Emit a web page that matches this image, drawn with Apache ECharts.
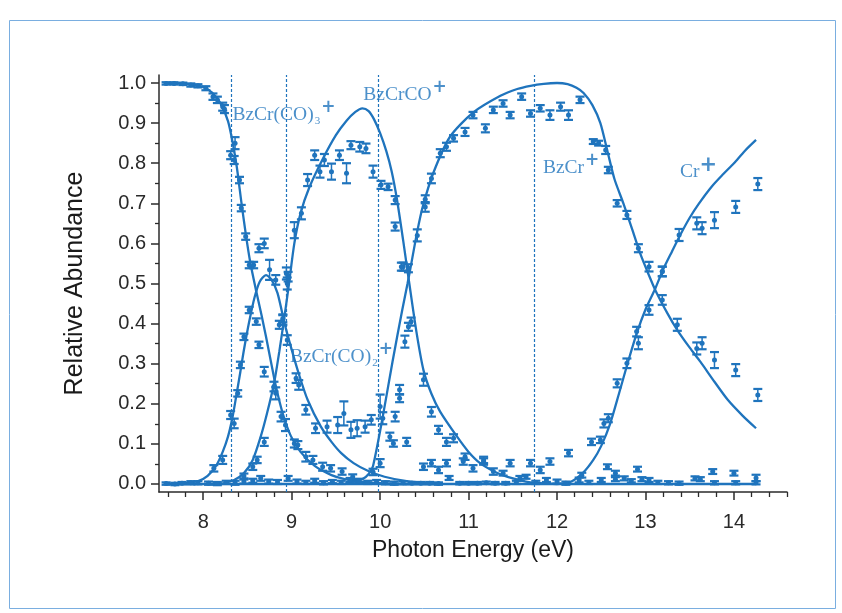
<!DOCTYPE html>
<html>
<head>
<meta charset="utf-8">
<script src="https://cdn.jsdelivr.net/npm/echarts@6/dist/echarts.min.js"></script>
<style>
  html, body { margin: 0; padding: 0; background: #ffffff; }
  #chart { width: 842px; height: 613px; }
</style>
</head>
<body>
<div id="chart"></div>
<script>
// ---- Axis ticks ----
const xMajorTicks = [8, 9, 10, 11, 12, 13, 14];
const xMinorTicks = [7.6, 7.8, 8.2, 8.4, 8.6, 8.8, 9.2, 9.4, 9.6, 9.8, 10.2, 10.4, 10.6, 10.8,
  11.2, 11.4, 11.6, 11.8, 12.2, 12.4, 12.6, 12.8, 13.2, 13.4, 13.6, 13.8, 14.2, 14.4, 14.6];
const yMajorTicks = [0.0, 0.1, 0.2, 0.3, 0.4, 0.5, 0.6, 0.7, 0.8, 0.9, 1.0];
const yMinorTicks = [0.05, 0.15, 0.25, 0.35, 0.45, 0.55, 0.65, 0.75, 0.85, 0.95];

// ---- Fitted curves [photon energy (eV), relative abundance] ----
const fitParent = [[7.58,1.0],[7.8,0.998],[8.0,0.99],[8.1,0.976],[8.2,0.948],[8.28,0.905],[8.33,0.855],
  [8.38,0.79],[8.43,0.705],[8.48,0.625],[8.53,0.555],[8.6,0.48],[8.66,0.42],[8.71,0.367],[8.77,0.30],
  [8.82,0.245],[8.9,0.175],[8.99,0.12],[9.1,0.08],[9.26,0.045],[9.45,0.022],[9.6,0.012],[9.8,0.005],
  [10.0,0.002],[10.3,0.0]];
const fitDicarbonyl = [[7.58,0.0],[7.8,0.002],[7.95,0.008],[8.05,0.02],[8.15,0.047],[8.22,0.08],[8.28,0.118],
  [8.33,0.165],[8.37,0.215],[8.42,0.28],[8.46,0.334],[8.52,0.405],[8.58,0.465],[8.64,0.505],[8.71,0.521],
  [8.77,0.51],[8.84,0.476],[8.92,0.40],[9.0,0.335],[9.08,0.275],[9.18,0.21],[9.33,0.143],[9.45,0.105],
  [9.56,0.077],[9.7,0.052],[9.86,0.033],[10.05,0.018],[10.3,0.007],[10.6,0.001]];
const fitMonocarbonyl = [[8.2,0.0],[8.35,0.01],[8.46,0.027],[8.56,0.06],[8.65,0.118],[8.72,0.175],[8.8,0.25],
  [8.86,0.33],[8.92,0.42],[8.97,0.5],[9.03,0.6],[9.1,0.675],[9.2,0.74],[9.35,0.81],[9.5,0.87],[9.62,0.906],
  [9.72,0.928],[9.8,0.937],[9.87,0.93],[9.93,0.91],[10.0,0.875],[10.07,0.83],[10.13,0.78],[10.19,0.71],
  [10.26,0.608],[10.33,0.5],[10.41,0.38],[10.49,0.284],[10.58,0.225],[10.68,0.18],[10.87,0.118],
  [11.0,0.08],[11.13,0.052],[11.3,0.03],[11.45,0.017],[11.7,0.004],[12.0,0.0]];
const fitBzCr = [[9.6,0.0],[9.8,0.012],[9.87,0.025],[9.92,0.045],[10.03,0.168],[10.14,0.305],[10.25,0.434],
  [10.31,0.5],[10.36,0.559],[10.42,0.63],[10.48,0.69],[10.6,0.775],[10.79,0.866],[11.05,0.926],
  [11.36,0.968],[11.55,0.985],[11.7,0.993],[11.85,0.998],[12.0,1.0],[12.12,0.997],[12.22,0.988],
  [12.3,0.975],[12.4,0.945],[12.49,0.9],[12.57,0.83],[12.65,0.76],[12.75,0.7],[12.85,0.635],
  [12.94,0.575],[13.04,0.52],[13.11,0.484],[13.25,0.425],[13.36,0.384],[13.5,0.34],[13.62,0.305],
  [13.78,0.255],[13.93,0.21],[14.1,0.17],[14.25,0.139]];
const fitCr = [[12.0,0.0],[12.15,0.005],[12.29,0.027],[12.41,0.06],[12.5,0.095],[12.6,0.15],[12.7,0.225],
  [12.79,0.295],[12.9,0.375],[13.0,0.435],[13.11,0.487],[13.2,0.535],[13.3,0.58],[13.4,0.624],
  [13.5,0.664],[13.6,0.698],[13.75,0.742],[13.88,0.773],[14.0,0.80],[14.12,0.83],[14.25,0.858]];
const fitBaseline = [[7.58,0.0],[14.25,0.0]];

// ---- Measured points [photon energy (eV), relative abundance, error] ----
const ptsParent = [[7.58,0.999,0.003],[7.67,0.999,0.003],[7.77,0.998,0.003],[7.86,0.995,0.004],
  [7.94,0.993,0.004],[8.03,0.987,0.005],[8.11,0.966,0.008],[8.16,0.958,0.008],[8.22,0.941,0.01],
  [8.24,0.935,0.01],[8.36,0.85,0.015],[8.31,0.82,0.01],[8.35,0.808,0.01],[8.41,0.758,0.008],
  [8.43,0.688,0.008],[8.48,0.617,0.008],[8.52,0.546,0.008],[8.57,0.546,0.008],[8.63,0.347,0.008],
  [8.69,0.28,0.012],[8.8,0.243,0.012],[8.82,0.226,0.015],[8.88,0.168,0.012],[8.93,0.147,0.015],
  [9.03,0.101,0.01],[9.07,0.097,0.01],[9.16,0.068,0.012],[9.24,0.06,0.01],[9.35,0.043,0.01],
  [9.44,0.039,0.008],[9.57,0.031,0.008],[9.69,0.018,0.006]];
const ptsDicarbonyl = [[8.12,0.039,0.008],[8.22,0.06,0.01],[8.31,0.172,0.01],[8.35,0.151,0.012],
  [8.39,0.226,0.008],[8.42,0.297,0.008],[8.46,0.367,0.008],[8.52,0.434,0.008],[8.6,0.405,0.008],
  [8.63,0.588,0.01],[8.69,0.6,0.012],[8.75,0.534,0.025],[8.82,0.509,0.012],[8.95,0.5,0.015],
  [8.9,0.409,0.012],[8.86,0.397,0.01],[8.95,0.359,0.012],[9.05,0.264,0.012],[9.08,0.247,0.012],
  [9.16,0.185,0.012],[9.27,0.139,0.012],[9.4,0.143,0.015],[9.52,0.147,0.02],[9.59,0.176,0.03],
  [9.67,0.135,0.02],[9.74,0.139,0.02],[9.83,0.143,0.015],[9.9,0.16,0.012],[10.0,0.193,0.03],
  [10.03,0.164,0.015]];
const ptsMonocarbonyl = [[8.46,0.02,0.006],[8.56,0.043,0.008],[8.61,0.06,0.008],[8.69,0.105,0.01],
  [8.9,0.413,0.01],[8.96,0.517,0.012],[8.94,0.525,0.015],[9.03,0.633,0.02],[9.11,0.675,0.015],
  [9.18,0.758,0.015],[9.26,0.82,0.012],[9.32,0.779,0.015],[9.37,0.808,0.015],[9.45,0.779,0.02],
  [9.54,0.82,0.012],[9.62,0.775,0.025],[9.67,0.845,0.01],[9.77,0.841,0.012],[9.84,0.837,0.012],
  [9.92,0.779,0.015],[10.01,0.746,0.01],[10.09,0.741,0.008],[10.17,0.708,0.01],[10.17,0.642,0.01],
  [10.26,0.542,0.01],[10.32,0.538,0.01],[10.35,0.405,0.01],[10.32,0.392,0.01],[10.28,0.355,0.015],
  [10.49,0.26,0.015],[10.58,0.18,0.012],[10.66,0.135,0.01],[10.75,0.105,0.01],[10.83,0.114,0.01],
  [10.96,0.068,0.008],[11.17,0.06,0.008],[11.39,0.027,0.006],[11.58,0.014,0.006]];
const ptsBzCr = [[9.92,0.03,0.008],[10.0,0.052,0.01],[10.11,0.118,0.01],[10.17,0.168,0.012],
  [10.22,0.214,0.01],[10.22,0.235,0.012],[10.15,0.101,0.008],[10.3,0.105,0.01],[10.24,0.542,0.01],
  [10.42,0.62,0.015],[10.51,0.691,0.012],[10.51,0.71,0.01],[10.58,0.762,0.012],[10.68,0.825,0.01],
  [10.75,0.841,0.01],[10.83,0.862,0.008],[10.96,0.878,0.01],[11.05,0.92,0.008],[11.19,0.887,0.01],
  [11.28,0.933,0.008],[11.39,0.949,0.008],[11.47,0.92,0.008],[11.6,0.966,0.008],[11.7,0.924,0.008],
  [11.81,0.937,0.008],[11.92,0.92,0.012],[12.04,0.941,0.01],[12.13,0.92,0.012],[12.26,0.958,0.008],
  [12.41,0.854,0.006],[12.47,0.85,0.006],[12.55,0.833,0.01],[12.58,0.783,0.008],[12.68,0.7,0.008],
  [12.79,0.671,0.01],[12.92,0.588,0.01],[13.04,0.542,0.012],[13.19,0.53,0.012],[13.19,0.459,0.012],
  [13.36,0.397,0.015],[13.58,0.338,0.015],[13.64,0.351,0.015],[13.78,0.309,0.02],[14.02,0.284,0.015],
  [14.27,0.222,0.015]];
const ptsLowYield = [[10.49,0.043,0.008],[10.58,0.052,0.008],[10.66,0.035,0.008],[10.75,0.052,0.008],
  [10.94,0.056,0.008],[11.05,0.039,0.008],[11.17,0.056,0.008],[11.28,0.031,0.008],[11.47,0.052,0.008],
  [11.7,0.052,0.008],[11.81,0.035,0.008],[11.92,0.056,0.008],[12.13,0.077,0.008]];
const ptsCr = [[12.28,0.022,0.006],[12.39,0.105,0.008],[12.49,0.11,0.008],[12.53,0.151,0.01],
  [12.58,0.164,0.01],[12.68,0.251,0.01],[12.79,0.301,0.012],[12.9,0.38,0.012],[12.92,0.351,0.015],
  [13.04,0.434,0.012],[13.19,0.53,0.012],[13.38,0.621,0.015],[13.58,0.65,0.015],[13.64,0.638,0.015],
  [13.78,0.658,0.02],[14.02,0.691,0.015],[14.27,0.748,0.015]];
const ptsBaseline = [[7.58,0.001,0.003],[7.68,0.0,0.003],[7.76,0.002,0.003],[7.86,0.003,0.004],
  [7.94,0.003,0.004],[8.06,0.002,0.004],[8.16,0.001,0.004],[8.26,0.004,0.004],[8.36,0.003,0.005],
  [8.46,0.006,0.005],[8.56,0.008,0.005],[8.65,0.014,0.006],[8.74,0.006,0.005],[8.84,0.005,0.005],
  [8.96,0.014,0.006],[9.06,0.006,0.005],[9.16,0.004,0.004],[9.26,0.008,0.005],[9.36,0.003,0.004],
  [9.46,0.006,0.004],[9.56,0.004,0.004],[9.66,0.01,0.005],[9.76,0.008,0.005],[9.86,0.004,0.004],
  [9.96,0.006,0.004],[10.06,0.003,0.004],[10.16,0.002,0.004],[10.26,0.003,0.004],[10.36,0.002,0.003],
  [10.46,0.002,0.003],[10.56,0.002,0.003],[10.66,0.001,0.003],[10.78,0.015,0.005],[10.9,0.002,0.003],
  [11.0,0.002,0.003],[11.1,0.002,0.003],[11.2,0.003,0.003],[11.3,0.002,0.003],[11.42,0.002,0.003],
  [11.54,0.004,0.004],[11.65,0.018,0.005],[11.76,0.004,0.004],[11.88,0.01,0.005],[12.0,0.006,0.005],
  [12.1,0.002,0.004],[12.25,0.01,0.006],[12.36,0.004,0.004],[12.5,0.01,0.005],[12.57,0.043,0.006],
  [12.66,0.027,0.006],[12.66,0.012,0.005],[12.76,0.014,0.005],[12.84,0.008,0.004],[12.91,0.037,0.006],
  [12.96,0.012,0.005],[13.04,0.01,0.005],[13.14,0.004,0.004],[13.26,0.003,0.004],[13.38,0.002,0.004],
  [13.56,0.014,0.005],[13.62,0.012,0.005],[13.76,0.031,0.006],[13.78,0.003,0.004],[14.0,0.027,0.006],
  [14.02,0.003,0.004],[14.25,0.015,0.008],[14.25,0.003,0.004]];

// ---- Appearance thresholds (dashed markers, eV) ----
const thresholdEnergies = [8.325, 8.94, 9.98, 11.74];

// ---- Ion labels: rich-text content and anchor [eV, abundance] ----
const ionLabelText = [
  '{t|BzCr(CO)}{sub|3}{sup|+}',
  '{t|BzCrCO}{sup|+}',
  '{t|BzCr}{sup|+}',
  '{t|Cr}{supL|+}',
  '{t|BzCr(CO)}{sub|2}{sup|+}'
];
const ionLabelE = [8.33, 9.81, 11.84, 13.39, 8.98];
const ionLabelV = [0.92, 0.97, 0.788, 0.778, 0.317];

const BLUE = '#1f74bd';
const AXIS = '#2b2b2b';

function fitSeries(data) {
  return {
    type: 'line', data, smooth: 0.25, showSymbol: false, silent: true,
    lineStyle: { color: BLUE, width: 2.3 }, z: 2
  };
}

function pointSeries(pts) {
  return {
    type: 'custom', data: pts, silent: true, z: 3,
    dimensions: ['e', 'v', 'err'],
    encode: { x: 0, y: 1 },
    renderItem: function (params, api) {
      const e = api.value(0), v = api.value(1), d = api.value(2);
      const c = api.coord([e, v]);
      const top = api.coord([e, v + d])[1];
      const bot = api.coord([e, v - d])[1];
      const hw = 4.5;
      return {
        type: 'group',
        children: [
          { type: 'line', shape: { x1: c[0], y1: top, x2: c[0], y2: bot }, style: { stroke: BLUE, lineWidth: 1.5 } },
          { type: 'line', shape: { x1: c[0] - hw, y1: top, x2: c[0] + hw, y2: top }, style: { stroke: BLUE, lineWidth: 2.2 } },
          { type: 'line', shape: { x1: c[0] - hw, y1: bot, x2: c[0] + hw, y2: bot }, style: { stroke: BLUE, lineWidth: 2.2 } },
          { type: 'circle', shape: { cx: c[0], cy: c[1], r: 2.5 }, style: { fill: BLUE } }
        ]
      };
    }
  };
}

const chart = echarts.init(document.getElementById('chart'), null, { renderer: 'canvas' });

const series = [
  fitSeries(fitParent),
  fitSeries(fitDicarbonyl),
  fitSeries(fitMonocarbonyl),
  fitSeries(fitBzCr),
  fitSeries(fitCr),
  fitSeries(fitBaseline),
  pointSeries(ptsParent),
  pointSeries(ptsDicarbonyl),
  pointSeries(ptsMonocarbonyl),
  pointSeries(ptsBzCr),
  pointSeries(ptsLowYield),
  pointSeries(ptsCr),
  pointSeries(ptsBaseline),
  {
    // vertical dashed threshold markers
    type: 'line', data: [], silent: true,
    markLine: {
      silent: true, symbol: 'none', animation: false,
      label: { show: false },
      lineStyle: { color: BLUE, width: 1.2, type: [3, 2] },
      data: thresholdEnergies.map(function (e) { return { xAxis: e }; })
    }
  },
  {
    // ion labels
    type: 'scatter', symbolSize: 0, silent: true, z: 5,
    data: ionLabelE.map(function (e, i) {
      return { value: [e, ionLabelV[i]], label: { formatter: ionLabelText[i] } };
    }),
    label: {
      show: true, position: 'right', distance: 0,
      rich: {
        t: { fontFamily: 'Liberation Serif', fontSize: 19.5, color: BLUE },
        sub: { fontFamily: 'Liberation Serif', fontSize: 11, color: BLUE, padding: [13, 0, 0, 1] },
        sup: { fontFamily: 'DejaVu Sans', fontSize: 17, fontWeight: 'bold', color: BLUE, padding: [0, 0, 15, 1] },
        supL: { fontFamily: 'DejaVu Sans', fontSize: 21, fontWeight: 'bold', color: BLUE, padding: [0, 0, 13, 0] }
      }
    }
  }
];

chart.setOption({
  animation: false,
  backgroundColor: '#ffffff',
  graphic: [{
    type: 'rect', silent: true, z: -10,
    shape: { x: 9.5, y: 20.5, width: 826, height: 588 },
    style: { fill: null, stroke: '#7aaee0', lineWidth: 1 }
  }],
  grid: { left: 159, right: 55, top: 75, bottom: 121 },
  xAxis: [
    {
      type: 'value', min: 7.5, max: 14.6,
      name: 'Photon Energy (eV)', nameLocation: 'middle', nameGap: 47,
      nameTextStyle: { fontFamily: 'Liberation Sans', fontSize: 23, color: '#1a1a1a' },
      axisLine: { show: true, onZero: false, lineStyle: { color: AXIS, width: 1.5 } },
      axisTick: { show: true, inside: false, length: 8, customValues: xMajorTicks, lineStyle: { color: AXIS, width: 1.5 } },
      axisLabel: { customValues: xMajorTicks, margin: 20, fontFamily: 'Liberation Sans', fontSize: 20, color: '#2a2a2a' },
      splitLine: { show: false }
    },
    {
      type: 'value', min: 7.5, max: 14.6, position: 'bottom',
      axisLine: { show: false, onZero: false },
      axisTick: { show: true, length: 5, customValues: xMinorTicks, lineStyle: { color: AXIS, width: 1.3 } },
      axisLabel: { show: false },
      splitLine: { show: false }
    }
  ],
  yAxis: [
    {
      type: 'value', min: -0.02, max: 1.02,
      name: 'Relative Abundance', nameLocation: 'middle', nameGap: 71, nameRotate: 90,
      nameTextStyle: { fontFamily: 'Liberation Sans', fontSize: 25, color: '#1a1a1a' },
      axisLine: { show: true, onZero: false, lineStyle: { color: AXIS, width: 1.5 } },
      axisTick: { show: true, length: 8, customValues: yMajorTicks, lineStyle: { color: AXIS, width: 1.5 } },
      axisLabel: {
        customValues: yMajorTicks, margin: 13, fontFamily: 'Liberation Sans', fontSize: 20, color: '#2a2a2a',
        formatter: function (v) { return v.toFixed(1); }
      },
      splitLine: { show: false }
    },
    {
      type: 'value', min: -0.02, max: 1.02, position: 'left',
      axisLine: { show: false, onZero: false },
      axisTick: { show: true, length: 4, customValues: yMinorTicks, lineStyle: { color: AXIS, width: 1.3 } },
      axisLabel: { show: false },
      splitLine: { show: false }
    }
  ],
  series: series
});
</script>
</body>
</html>
